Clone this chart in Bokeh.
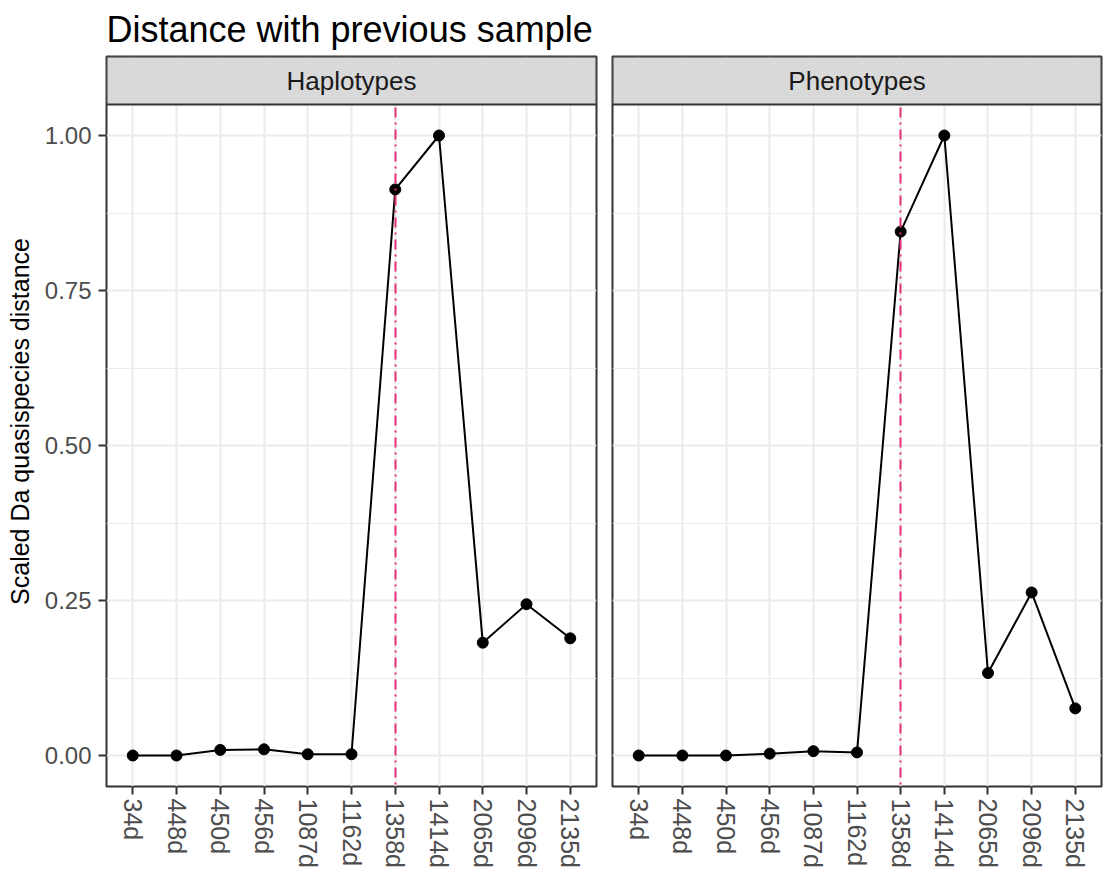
from bokeh.plotting import figure
from bokeh.layouts import row
from bokeh.models import (Range1d, FactorRange, FixedTicker, NumeralTickFormatter,
                          Label, BoxAnnotation)
from bokeh.embed import file_html
from bokeh.resources import INLINE

# ---- data ----
title_text = "Distance with previous sample"
y_label = "Scaled Da quasispecies distance"
panel_names = ["Haplotypes", "Phenotypes"]
samples = ["34d", "448d", "450d", "456d", "1087d", "1162d",
           "1358d", "1414d", "2065d", "2096d", "2135d"]
haplotypes = [0.0, 0.0, 0.009, 0.010, 0.002, 0.002, 0.913, 1.0, 0.182, 0.244, 0.189]
phenotypes = [0.0, 0.0, 0.0, 0.003, 0.007, 0.005, 0.845, 1.0, 0.133, 0.263, 0.076]
marker_sample = ["1358d"]
y_ticks = [0.0, 0.25, 0.5, 0.75, 1.0]
y_minor_ticks = [0.125, 0.375, 0.625, 0.875]

FONT = "Liberation Sans"
BORDER = "#333333"
GRID = "#EBEBEB"
VLINE = "#E7317A"

# layout geometry (pixels)
PANEL_PX = 682
STRIP_PX = 48
Y_LO, Y_HI = -0.05, 1.05
Y_TOP = Y_HI + (Y_HI - Y_LO) * STRIP_PX / PANEL_PX


def make_panel(values, name, first):
    p = figure(x_range=FactorRange(factors=samples, range_padding=0.1,
                                   range_padding_units="absolute"),
               y_range=Range1d(Y_LO, Y_TOP),
               frame_width=490 if first else 489, frame_height=PANEL_PX + STRIP_PX,
               y_axis_location="left" if first else None,
               min_border_left=106 if first else 6,
               min_border_right=10 if first else 2,
               min_border_top=55, min_border_bottom=0,
               outline_line_color=BORDER, outline_line_width=2,
               background_fill_color="white",
               output_backend="svg", toolbar_location=None)
    p.xgrid.grid_line_color = GRID
    p.xgrid.grid_line_width = 2
    p.ygrid.ticker = FixedTicker(ticks=y_ticks, minor_ticks=y_minor_ticks)
    p.ygrid.grid_line_color = GRID
    p.ygrid.grid_line_width = 2
    p.ygrid.minor_grid_line_color = GRID
    p.ygrid.minor_grid_line_width = 1

    xa = p.xaxis[0]
    xa.axis_line_color = None
    xa.major_tick_line_color = BORDER
    xa.major_tick_line_width = 2
    xa.major_tick_out = 8
    xa.major_tick_in = 0
    xa.minor_tick_line_color = None
    xa.major_label_orientation = "vertical"
    xa.major_label_text_font = FONT
    xa.major_label_text_font_size = "25px"
    xa.major_label_text_color = "#4D4D4D"
    xa.major_label_standoff = 4

    if first:
        ya = p.yaxis[0]
        ya.ticker = FixedTicker(ticks=y_ticks, minor_ticks=y_minor_ticks)
        ya.formatter = NumeralTickFormatter(format="0.00")
        ya.axis_line_color = None
        ya.major_tick_line_color = BORDER
        ya.major_tick_line_width = 2
        ya.major_tick_out = 8
        ya.major_tick_in = 0
        ya.minor_tick_line_color = None
        ya.major_label_text_font = FONT
        ya.major_label_text_font_size = "24px"
        ya.major_label_text_color = "#4D4D4D"
        ya.major_label_standoff = 7
        ya.axis_label = y_label
        ya.axis_label_text_font = FONT
        ya.axis_label_text_font_size = "25px"
        ya.axis_label_text_font_style = "normal"
        ya.axis_label_text_color = "black"
        ya.axis_label_standoff = 8

        p.title.text = title_text
        p.title.align = "left"
        p.title.text_font = FONT
        p.title.text_font_size = "36px"
        p.title.text_font_style = "normal"
        p.title.text_color = "black"
        p.title.text_line_height = 1.0
        p.title.standoff = 13

    p.line(x=samples, y=values, line_color="black", line_width=2)
    p.scatter(x=samples, y=values, size=11, fill_color="black", line_color="black")
    p.vspan(x=marker_sample, line_color=VLINE, line_width=2, line_dash="2 5 10 5")

    # facet strip
    p.add_layout(BoxAnnotation(bottom=Y_HI, fill_color="#D9D9D9", fill_alpha=1.0,
                               line_color=BORDER, line_width=2, line_alpha=1.0))
    p.add_layout(Label(x=len(samples) / 2, y=(Y_HI + Y_TOP) / 2, text=name,
                       text_align="center", text_baseline="middle",
                       text_font_size="26px", text_font=FONT,
                       text_color="#1A1A1A"))
    return p


panel_l = make_panel(haplotypes, panel_names[0], True)
panel_r = make_panel(phenotypes, panel_names[1], False)

layout = row(panel_l, panel_r)

with open("out.html", "w") as f:
    f.write(file_html(layout, INLINE))
